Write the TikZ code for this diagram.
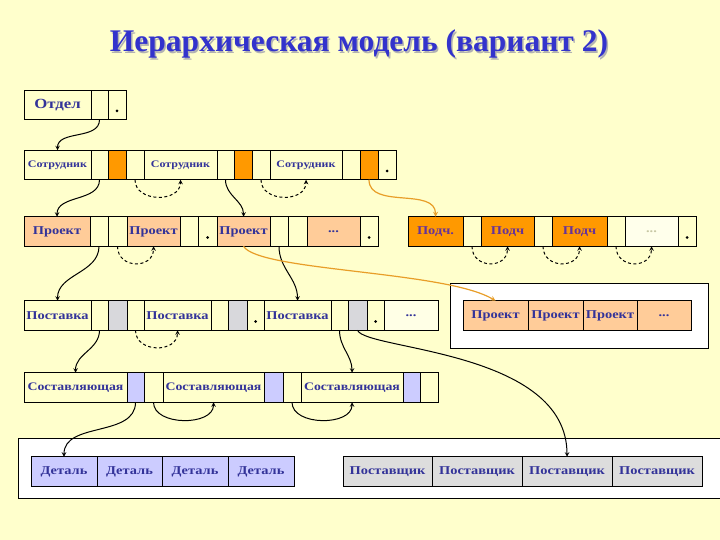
\documentclass[tikz,border=0pt]{standalone}
\usepackage{fontspec}
\setmainfont{Liberation Serif}
\newfontfamily\cellfont[FakeStretch=1.2]{Liberation Serif}
\newfontfamily\titlefont{Liberation Serif}

\definecolor{bgyellow}{HTML}{FFFFCC}
\definecolor{navy}{HTML}{333399}
\definecolor{titleblue}{HTML}{3333CC}
\definecolor{orangecell}{HTML}{FF9900}
\definecolor{peach}{HTML}{FFCC99}
\definecolor{greycell}{HTML}{D8D8DC}
\definecolor{lavender}{HTML}{CCCCFF}
\definecolor{suppgrey}{HTML}{DDDDDD}
\definecolor{podchtext}{HTML}{663399}
\definecolor{arrorange}{RGB}{232,158,40}

\tikzset{
  fld/.style={draw,line width=0.8pt,inner sep=0pt,outer sep=0pt,minimum height=29.5,
    font=\cellfont\bfseries\fontsize{12}{12}\selectfont,text=navy},
  otd/.style={font=\cellfont\bfseries\fontsize{14}{14}\selectfont},
  sotr/.style={font=\cellfont\bfseries\fontsize{10}{10}\selectfont},
  sost/.style={font=\cellfont\bfseries\fontsize{11.5}{11.5}\selectfont},
  ttl/.style={font=\titlefont\bfseries\fontsize{31.5}{31.5}\selectfont},
  ptr/.style={path picture={\fill ([yshift=-6pt]path picture bounding box.center) circle (1.5pt);}},
  link/.style={->,line width=1pt},
  dlink/.style={->,line width=1pt,dash pattern=on 3pt off 2.5pt},
  olink/.style={->,line width=1.2pt,draw=arrorange},
}

% field of a record: name, left x, right x, centre y, text
\newcommand{\fld}[6][]{\node[fld,#1,minimum width={(#4)-(#3)}] (#2) at ({((#3)+(#4))/2},#5) {#6};}

\begin{document}
\begin{tikzpicture}[>=stealth,x=1pt,y=1pt]
    \fill[bgyellow] (0,0) rectangle (720,-540);
    \useasboundingbox (0,0) rectangle (720,-540);

    \node[ttl,text=gray!60] (titleshadow) at (360.5,-45.5) {Иерархическая модель (вариант 2)};
    \node[ttl,text=titleblue] (title) at (359,-44) {Иерархическая модель (вариант 2)};

    % white boxes
    \fill[white] (450,-283) rectangle (708,-348);
    \draw[line width=0.8pt] (450,-283) rectangle (708,-348);
    \fill[white] (18,-438) rectangle (720,-498);
    \draw[line width=0.8pt] (720,-438) -| (18,-498) -- (720,-498);

    % Отдел
    \fld[otd]{otdel}{24}{91}{-105}{Отдел}
    \fld{otdele}{91}{108}{-105}{}
    \fld[ptr]{otdelp}{108}{126}{-105}{}

    % Сотрудник
    \fld[sotr]{sotr1}{24}{91}{-165}{Сотрудник}
    \fld{sotr1e}{91}{108}{-165}{}
    \fld[fill=orangecell]{sotr1o}{108}{126}{-165}{}
    \fld{sotr1n}{126}{144}{-165}{}
    \fld[sotr]{sotr2}{144}{217}{-165}{Сотрудник}
    \fld{sotr2e}{217}{234}{-165}{}
    \fld[fill=orangecell]{sotr2o}{234}{252}{-165}{}
    \fld{sotr2n}{252}{270}{-165}{}
    \fld[sotr]{sotr3}{270}{342}{-165}{Сотрудник}
    \fld{sotr3e}{342}{360}{-165}{}
    \fld[fill=orangecell]{sotr3o}{360}{378}{-165}{}
    \fld[ptr]{sotr3p}{378}{396}{-165}{}

    % Проект
    \fld[fill=peach]{proj1}{24}{90}{-231.5}{Проект}
    \fld{proj1e}{90}{108}{-231.5}{}
    \fld{proj1n}{108}{127}{-231.5}{}
    \fld[fill=peach]{proj2}{127}{180}{-231.5}{Проект}
    \fld{proj2e}{180}{198}{-231.5}{}
    \fld[ptr]{proj2p}{198}{217}{-231.5}{}
    \fld[fill=peach]{proj3}{217}{270}{-231.5}{Проект}
    \fld{proj3e}{270}{288}{-231.5}{}
    \fld{proj3n}{288}{307}{-231.5}{}
    \fld[fill=peach]{projd}{307}{360}{-231.5}{...}
    \fld[ptr]{projp}{360}{378}{-231.5}{}

    % Подч.
    \fld[fill=orangecell,text=podchtext]{podch1}{408}{463}{-231.5}{Подч.}
    \fld{podch1n}{463}{481}{-231.5}{}
    \fld[fill=orangecell,text=podchtext]{podch2}{481}{534}{-231.5}{Подч}
    \fld{podch2n}{534}{552}{-231.5}{}
    \fld[fill=orangecell,text=podchtext]{podch3}{552}{607}{-231.5}{Подч}
    \fld{podch3n}{607}{625}{-231.5}{}
    \fld[fill=white!60!bgyellow,text=black!15!bgyellow!80!gray]{podchd}{625}{678}{-231.5}{...}
    \fld[ptr]{podchp}{678}{696}{-231.5}{}

    % Поставка
    \fld{post1}{24}{91}{-315.5}{Поставка}
    \fld{post1e}{91}{108}{-315.5}{}
    \fld[fill=greycell]{post1g}{108}{127}{-315.5}{}
    \fld{post1n}{127}{144}{-315.5}{}
    \fld{post2}{144}{211}{-315.5}{Поставка}
    \fld{post2e}{211}{228}{-315.5}{}
    \fld[fill=greycell]{post2g}{228}{247}{-315.5}{}
    \fld[ptr]{post2p}{247}{264}{-315.5}{}
    \fld{post3}{264}{331}{-315.5}{Поставка}
    \fld{post3e}{331}{348}{-315.5}{}
    \fld[fill=greycell]{post3g}{348}{367}{-315.5}{}
    \fld[ptr]{post3p}{367}{384}{-315.5}{}
    \fld[fill=white!50!bgyellow]{postd}{384}{438}{-315.5}{...}

    % Проект (list)
    \fld[fill=peach]{projr1}{463}{528}{-315.5}{Проект}
    \fld[fill=peach]{projr2}{528}{583}{-315.5}{Проект}
    \fld[fill=peach]{projr3}{583}{637}{-315.5}{Проект}
    \fld[fill=peach]{projrd}{637}{691}{-315.5}{...}

    % Составляющая
    \fld[sost]{sost1}{24}{127}{-387.5}{Составляющая}
    \fld[fill=lavender]{sost1l}{127}{144}{-387.5}{}
    \fld{sost1n}{144}{163}{-387.5}{}
    \fld[sost]{sost2}{163}{264}{-387.5}{Составляющая}
    \fld[fill=lavender]{sost2l}{264}{283}{-387.5}{}
    \fld{sost2n}{283}{301}{-387.5}{}
    \fld[sost]{sost3}{301}{403}{-387.5}{Составляющая}
    \fld[fill=lavender]{sost3l}{403}{420}{-387.5}{}
    \fld{sost3n}{420}{438}{-387.5}{}

    % Деталь, Поставщик
    \fld[fill=lavender]{det1}{31}{97}{-471.5}{Деталь}
    \fld[fill=lavender]{det2}{97}{162}{-471.5}{Деталь}
    \fld[fill=lavender]{det3}{162}{228}{-471.5}{Деталь}
    \fld[fill=lavender]{det4}{228}{294}{-471.5}{Деталь}
    \fld[fill=suppgrey]{pstv1}{343}{432}{-471.5}{Поставщик}
    \fld[fill=suppgrey]{pstv2}{432}{522}{-471.5}{Поставщик}
    \fld[fill=suppgrey]{pstv3}{522}{612}{-471.5}{Поставщик}
    \fld[fill=suppgrey]{pstv4}{612}{702}{-471.5}{Поставщик}

    % links down
    \draw[link] (otdele.south) to[out=-90,in=90] (sotr1.north);
    \draw[link] (sotr1e.south) to[out=-90,in=90] (proj1.north);
    \draw[link] (sotr2e.south) to[out=-90,in=90] (proj3.north);
    \draw[link] (proj1e.south) to[out=-90,in=90] (post1.north);
    \draw[link] (proj3e.south) to[out=-90,in=90] (post3.north);
    \draw[link] (post1e.south) to[out=-90,in=90] (sost1.north);
    \draw[link] (post3e.south) to[out=-90,in=90] (sost3.north);
    \draw[link] (sost1l.south) to[out=-90,in=90] (det1.north);
    \draw[link] (post3g.south) .. controls +(8,-20) and +(0,107) .. (pstv3.north);
    \draw[olink] (sotr3o.south) to[out=-90,in=90] (podch1.north);
    \draw[olink] (proj3.south) .. controls +(15,-25) and +(-50,30) .. (projr1.north);

    % links to next in row
    \draw[dlink] (sotr1n.south) .. controls +(0,-23) and +(0,-23) .. (sotr2.south);
    \draw[dlink] (sotr2n.south) .. controls +(0,-23) and +(0,-23) .. (sotr3.south);
    \draw[dlink] (proj1n.south) .. controls +(0,-23) and +(0,-23) .. (proj2.south);
    \draw[dlink] (podch1n.south) .. controls +(0,-23) and +(0,-23) .. (podch2.south);
    \draw[dlink] (podch2n.south) .. controls +(0,-23) and +(0,-23) .. (podch3.south);
    \draw[dlink] (podch3n.south) .. controls +(0,-23) and +(0,-23) .. (podchd.south);
    \draw[dlink] (post1n.south) .. controls +(0,-23) and +(0,-23) .. (post2.south);
    \draw[link] (sost1n.south) .. controls +(0,-24) and +(0,-24) .. (sost2.south);
    \draw[link] (sost2n.south) .. controls +(0,-24) and +(0,-24) .. (sost3.south);
\end{tikzpicture}
\end{document}
